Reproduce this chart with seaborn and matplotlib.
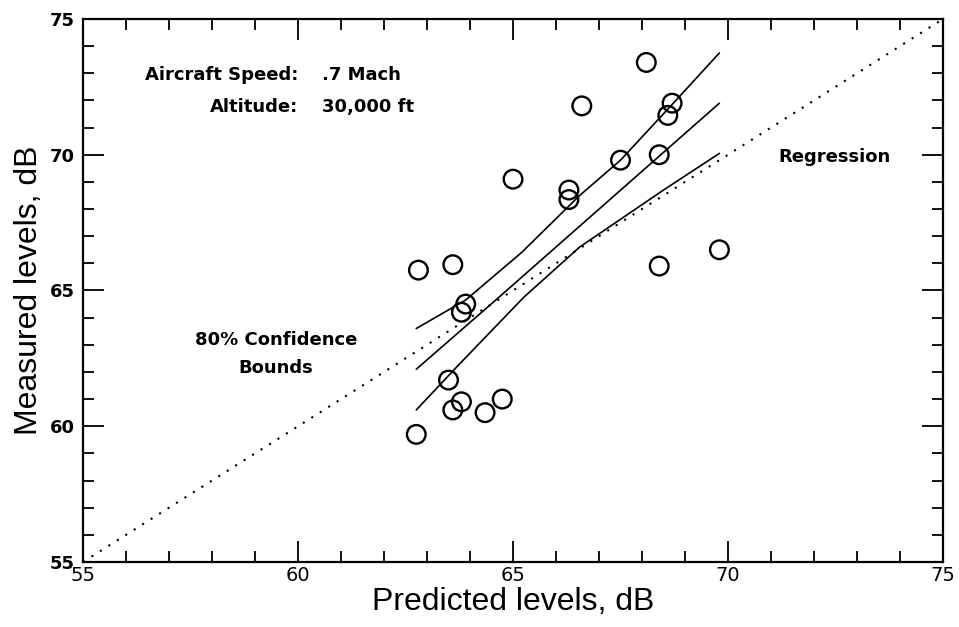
import matplotlib
matplotlib.use("Agg")
import matplotlib.pyplot as plt
import seaborn as sns
import pandas as pd
from matplotlib.ticker import MultipleLocator

# measured vs predicted points
predicted = [68.1, 66.6, 68.7, 68.6, 67.5, 68.4, 65.0, 66.3, 66.3, 62.8, 63.6,
             68.4, 69.8, 63.9, 63.8, 63.5, 63.8, 63.6, 64.35, 64.75, 62.75]
measured = [73.4, 71.8, 71.9, 71.45, 69.8, 70.0, 69.1, 68.7, 68.35, 65.75, 65.95,
            65.9, 66.5, 64.5, 64.2, 61.7, 60.9, 60.6, 60.5, 61.0, 59.7]

# regression line and 80% confidence bounds
reg_x = [62.75, 64.6, 69.8]
reg_y = [62.1, 64.65, 71.9]
upper_x = [62.75, 63.9, 65.2, 66.55, 67.5, 68.7, 69.8]
upper_y = [63.6, 64.65, 66.4, 68.5, 69.8, 71.85, 73.75]
lower_x = [62.75, 63.7, 65.25, 66.55, 68.5, 69.8]
lower_y = [60.6, 62.2, 64.75, 66.6, 68.7, 70.05]

# perfect agreement line
diag = [55, 75]

sns.set_style("ticks")
plt.rcParams['font.family'] = ['DejaVu Sans']
plt.rcParams['text.color'] = 'black'
plt.rcParams['axes.labelcolor'] = 'black'
plt.rcParams['xtick.color'] = 'black'
plt.rcParams['ytick.color'] = 'black'

df = pd.DataFrame({"pred": predicted, "meas": measured})

fig = plt.figure(figsize=(9.59, 6.27), dpi=100)
ax = fig.add_axes([0.0866, 0.1037, 0.8967, 0.866])

sns.lineplot(x=diag, y=diag, ax=ax, color="black", lw=1.5,
             linestyle=(0, (1, 3.8)))
sns.lineplot(x=reg_x, y=reg_y, ax=ax, color="black", lw=1.2)
sns.lineplot(x=upper_x, y=upper_y, ax=ax, color="black", lw=1.2)
sns.lineplot(x=lower_x, y=lower_y, ax=ax, color="black", lw=1.2)
sns.scatterplot(data=df, x="pred", y="meas", ax=ax, marker="o", s=180,
                facecolor="none", edgecolor="black", linewidth=1.7, zorder=5)

ax.set_xlim(55, 75)
ax.set_ylim(55, 75)
ax.xaxis.set_major_locator(MultipleLocator(5))
ax.yaxis.set_major_locator(MultipleLocator(5))
ax.xaxis.set_minor_locator(MultipleLocator(1))
ax.yaxis.set_minor_locator(MultipleLocator(1))
ax.tick_params(which="both", direction="in", top=True, right=True,
               color="black", width=1.3)
ax.tick_params(which="major", length=15)
ax.tick_params(which="minor", length=8)
ax.tick_params(axis="x", labelsize=14, pad=3)
ax.tick_params(axis="y", labelsize=13, pad=6)
for lab in ax.get_yticklabels():
    lab.set_fontweight("bold")
for sp in ax.spines.values():
    sp.set_linewidth(1.6)
    sp.set_color("black")

ax.set_xlabel("Predicted levels, dB", fontsize=23, family="Liberation Sans",
              labelpad=1)
ax.set_ylabel("Measured levels, dB", fontsize=23, family="Liberation Sans",
              labelpad=4)

# annotations
txt = dict(fontsize=13, fontweight="bold", va="center")
ax.text(60.0, 72.94, "Aircraft Speed:", ha="right", **txt)
ax.text(60.56, 72.94, ".7 Mach", ha="left", **txt)
ax.text(60.0, 71.75, "Altitude:", ha="right", **txt)
ax.text(60.56, 71.75, "30,000 ft", ha="left", **txt)
ax.text(59.49, 63.18, "80% Confidence", ha="center", **txt)
ax.text(59.49, 62.15, "Bounds", ha="center", **txt)
ax.text(72.47, 69.92, "Regression", ha="center", **txt)

fig.savefig("out.png", dpi=100)
